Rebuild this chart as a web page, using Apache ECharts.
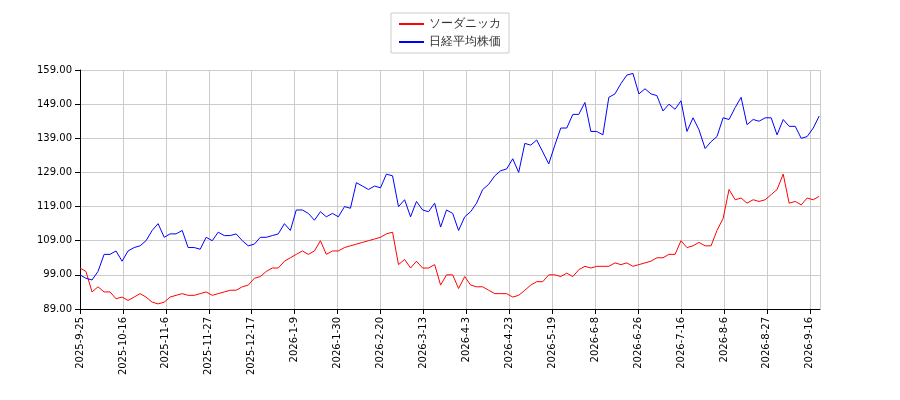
<!DOCTYPE html><html><head><meta charset="utf-8"><script src="https://cdn.jsdelivr.net/npm/echarts@6/dist/echarts.min.js"></script></head><body style="margin:0"><div id="c" style="width:900px;height:400px"></div><script>
const tickLabels = ['2025-9-25','2025-10-16','2025-11-6','2025-11-27','2025-12-17','2026-1-9','2026-1-30','2026-2-20','2026-3-13','2026-4-3','2026-4-23','2026-5-19','2026-6-8','2026-6-26','2026-7-16','2026-8-6','2026-8-27','2026-9-16'];
const seriesNames = ['ソーダニッカ', '日経平均株価'];
const soda = [101,100,94,95.5,94,94,92,92.5,91.5,92.5,93.5,92.5,91,90.5,91,92.5,93,93.5,93,93,93.5,94,93,93.5,94,94.5,94.5,95.5,96,98,98.5,100,101,101,103,104,105,106,105,106,109,105,106,106,107,107.5,108,108.5,109,109.5,110,111,111.5,102,103.5,101,103,101,101,102,96,99,99,95,98.5,96,95.5,95.5,94.5,93.5,93.5,93.5,92.5,93,94.5,96,97,97,99,99,98.5,99.5,98.5,100.5,101.5,101,101.5,101.5,101.5,102.5,102,102.5,101.5,102,102.5,103,104,104,105,105,109,107,107.5,108.5,107.5,107.5,112,115.5,124,121,121.5,120,121,120.5,121,122.5,124,128.5,120,120.5,119.5,121.5,121,122];
const nikkei = [99,98,97.5,100,105,105,106,103,106,107,107.5,109,112,114,110,111,111,112,107,107,106.5,110,109,111.5,110.5,110.5,111,109,107.5,108,110,110,110.5,111,114,112,118,118,117,115,117.5,116,117,116,119,118.5,126,125,124,125,124.5,128.5,128,119,121,116,120.5,118,117.5,120,113,118,117,112,116,117.5,120,124,125.5,128,129.5,130,133,129,137.5,137,138.5,135,131.5,137,142,142,146,146,149.5,141,141,140,151,152,155,157.5,158,152,153.5,152,151.5,147,149,147.5,150,141,145,141.5,136,138,139.5,145,144.5,148,151,143,144.5,144,145,145,140,144.5,142.5,142.5,139,139.5,142,145.5];
const sampleStepDays = 2.94;
const pts = a => a.map((v,i)=>[Math.round(i*sampleStepDays*10)/10, v]);
const ch = echarts.init(document.getElementById('c'));
ch.setOption({
 animation:false,
 legend:{top:13,left:'center',orient:'vertical',borderColor:'#ccc',borderWidth:1,padding:[5,8],itemGap:6,itemWidth:25,itemHeight:2,textStyle:{fontFamily:'DejaVu Sans',fontSize:12,color:'#333'},data:[{name:seriesNames[0],icon:'rect'},{name:seriesNames[1],icon:'rect'}]},
 grid:{left:80,right:80,top:70,bottom:91},
 xAxis:{type:'value',min:0,max:362,interval:21,axisLine:{lineStyle:{color:'#000'}},axisTick:{lineStyle:{color:'#000'}},splitLine:{show:true,lineStyle:{color:'#ccc'}},axisLabel:{rotate:90,showMaxLabel:false,color:'#000',fontFamily:'DejaVu Sans',fontSize:10,formatter:v=>tickLabels[Math.round(v/21)]||''}},
 yAxis:{type:'value',min:89,max:159,interval:10,axisLine:{show:true,lineStyle:{color:'#000'}},axisTick:{show:true,lineStyle:{color:'#000'}},splitLine:{lineStyle:{color:'#ccc'}},axisLabel:{color:'#000',fontFamily:'DejaVu Sans',fontSize:10,formatter:v=>v.toFixed(2)}},
 series:[
  {name:seriesNames[0],type:'line',data:pts(soda),showSymbol:false,lineStyle:{color:'#f00',width:1},itemStyle:{color:'#f00'}},
  {name:seriesNames[1],type:'line',data:pts(nikkei),showSymbol:false,lineStyle:{color:'#00f',width:1},itemStyle:{color:'#00f'}}
 ]
});
</script></body></html>
